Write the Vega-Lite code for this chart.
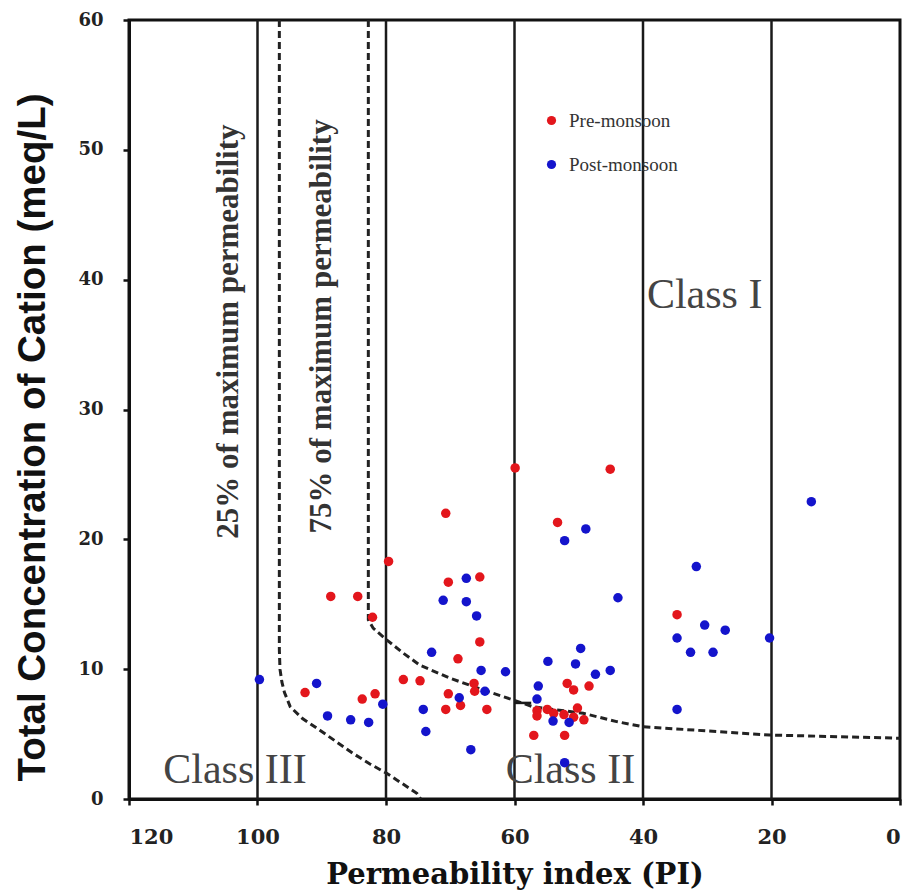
{
  "$schema": "https://vega.github.io/schema/vega-lite/v6.json",
  "width": 771,
  "height": 779,
  "autosize": {"type": "none"},
  "padding": {"left": 129, "top": 20, "right": 4, "bottom": 97},
  "background": "white",
  "config": {
    "view": {"stroke": "#111", "strokeWidth": 3},
    "axis": {"grid": false, "domainColor": "#111", "domainWidth": 3, "tickColor": "#111", "tickWidth": 2.5, "tickSize": 6, "labelColor": "#222", "titleColor": "#111"}
  },
  "datasets": {
    "vlines": [{"PI": 100}, {"PI": 80}, {"PI": 60}, {"PI": 40}, {"PI": 20}],
    "curves": [
      {"curve": "25%", "o": 1, "PI": 96.6, "C": 60},
      {"curve": "25%", "o": 2, "PI": 96.6, "C": 11.5},
      {"curve": "25%", "o": 3, "PI": 96.5, "C": 10.0},
      {"curve": "25%", "o": 4, "PI": 96.2, "C": 9.0},
      {"curve": "25%", "o": 5, "PI": 95.8, "C": 8.2},
      {"curve": "25%", "o": 6, "PI": 94.9, "C": 7.1},
      {"curve": "25%", "o": 7, "PI": 93.0, "C": 6.2},
      {"curve": "25%", "o": 8, "PI": 90.3, "C": 5.3},
      {"curve": "25%", "o": 9, "PI": 87.7, "C": 4.4},
      {"curve": "25%", "o": 10, "PI": 85.1, "C": 3.5},
      {"curve": "25%", "o": 11, "PI": 82.5, "C": 2.7},
      {"curve": "25%", "o": 12, "PI": 79.9, "C": 1.98},
      {"curve": "25%", "o": 13, "PI": 77.5, "C": 1.2},
      {"curve": "25%", "o": 14, "PI": 75.2, "C": 0.44},
      {"curve": "25%", "o": 15, "PI": 74.6, "C": 0},
      {"curve": "75%", "o": 1, "PI": 82.75, "C": 60},
      {"curve": "75%", "o": 2, "PI": 82.75, "C": 13.8},
      {"curve": "75%", "o": 3, "PI": 82.0, "C": 13.16},
      {"curve": "75%", "o": 4, "PI": 79.9, "C": 12.26},
      {"curve": "75%", "o": 5, "PI": 77.3, "C": 11.23},
      {"curve": "75%", "o": 6, "PI": 74.7, "C": 10.3},
      {"curve": "75%", "o": 7, "PI": 70.0, "C": 9.3},
      {"curve": "75%", "o": 8, "PI": 64.9, "C": 8.4},
      {"curve": "75%", "o": 9, "PI": 60.2, "C": 7.63},
      {"curve": "75%", "o": 10, "PI": 57.1, "C": 7.1},
      {"curve": "75%", "o": 11, "PI": 49.3, "C": 6.6},
      {"curve": "75%", "o": 12, "PI": 44.1, "C": 5.96},
      {"curve": "75%", "o": 13, "PI": 40.0, "C": 5.57},
      {"curve": "75%", "o": 14, "PI": 28.5, "C": 5.19},
      {"curve": "75%", "o": 15, "PI": 20.3, "C": 4.93},
      {"curve": "75%", "o": 16, "PI": 0, "C": 4.68}
    ],
    "segs": [{"PI": 60, "PI2": 57.4, "C": 7.4}],
    "classes": [
      {"label": "Class I", "PI": 30.4, "C": 37.8},
      {"label": "Class II", "PI": 51.3, "C": 1.25},
      {"label": "Class III", "PI": 103.5, "C": 1.25}
    ],
    "notes": [
      {"label": "25% of maximum permeability", "PI": 104.4, "C": 36.0},
      {"label": "75% of maximum permeability", "PI": 90.0, "C": 36.4}
    ],
    "points": [
      {"season": "Pre-monsoon", "PI": 79.6, "C": 18.3},
      {"season": "Pre-monsoon", "PI": 88.6, "C": 15.6},
      {"season": "Pre-monsoon", "PI": 84.4, "C": 15.6},
      {"season": "Pre-monsoon", "PI": 82.1, "C": 14.0},
      {"season": "Pre-monsoon", "PI": 92.6, "C": 8.2},
      {"season": "Pre-monsoon", "PI": 83.7, "C": 7.7},
      {"season": "Pre-monsoon", "PI": 81.7, "C": 8.1},
      {"season": "Pre-monsoon", "PI": 77.3, "C": 9.2},
      {"season": "Pre-monsoon", "PI": 74.7, "C": 9.1},
      {"season": "Pre-monsoon", "PI": 59.9, "C": 25.5},
      {"season": "Pre-monsoon", "PI": 45.1, "C": 25.4},
      {"season": "Pre-monsoon", "PI": 70.7, "C": 22.0},
      {"season": "Pre-monsoon", "PI": 53.3, "C": 21.3},
      {"season": "Pre-monsoon", "PI": 70.3, "C": 16.7},
      {"season": "Pre-monsoon", "PI": 65.4, "C": 17.1},
      {"season": "Pre-monsoon", "PI": 34.7, "C": 14.2},
      {"season": "Pre-monsoon", "PI": 65.4, "C": 12.1},
      {"season": "Pre-monsoon", "PI": 68.8, "C": 10.8},
      {"season": "Pre-monsoon", "PI": 66.3, "C": 8.9},
      {"season": "Pre-monsoon", "PI": 66.2, "C": 8.3},
      {"season": "Pre-monsoon", "PI": 70.3, "C": 8.1},
      {"season": "Pre-monsoon", "PI": 68.4, "C": 7.2},
      {"season": "Pre-monsoon", "PI": 70.7, "C": 6.9},
      {"season": "Pre-monsoon", "PI": 64.3, "C": 6.9},
      {"season": "Pre-monsoon", "PI": 51.8, "C": 8.9},
      {"season": "Pre-monsoon", "PI": 50.8, "C": 8.4},
      {"season": "Pre-monsoon", "PI": 48.4, "C": 8.7},
      {"season": "Pre-monsoon", "PI": 56.5, "C": 6.8},
      {"season": "Pre-monsoon", "PI": 56.5, "C": 6.4},
      {"season": "Pre-monsoon", "PI": 54.9, "C": 6.9},
      {"season": "Pre-monsoon", "PI": 53.9, "C": 6.6},
      {"season": "Pre-monsoon", "PI": 52.3, "C": 6.5},
      {"season": "Pre-monsoon", "PI": 50.2, "C": 7.0},
      {"season": "Pre-monsoon", "PI": 49.2, "C": 6.1},
      {"season": "Pre-monsoon", "PI": 50.8, "C": 6.3},
      {"season": "Pre-monsoon", "PI": 57.0, "C": 4.9},
      {"season": "Pre-monsoon", "PI": 52.2, "C": 4.9},
      {"season": "Post-monsoon", "PI": 99.7, "C": 9.2},
      {"season": "Post-monsoon", "PI": 90.8, "C": 8.9},
      {"season": "Post-monsoon", "PI": 80.5, "C": 7.3},
      {"season": "Post-monsoon", "PI": 89.1, "C": 6.4},
      {"season": "Post-monsoon", "PI": 85.5, "C": 6.1},
      {"season": "Post-monsoon", "PI": 82.7, "C": 5.9},
      {"season": "Post-monsoon", "PI": 48.9, "C": 20.8},
      {"season": "Post-monsoon", "PI": 52.2, "C": 19.9},
      {"season": "Post-monsoon", "PI": 31.7, "C": 17.9},
      {"season": "Post-monsoon", "PI": 67.5, "C": 17.0},
      {"season": "Post-monsoon", "PI": 71.1, "C": 15.3},
      {"season": "Post-monsoon", "PI": 67.5, "C": 15.2},
      {"season": "Post-monsoon", "PI": 65.9, "C": 14.1},
      {"season": "Post-monsoon", "PI": 43.9, "C": 15.5},
      {"season": "Post-monsoon", "PI": 34.7, "C": 12.4},
      {"season": "Post-monsoon", "PI": 32.6, "C": 11.3},
      {"season": "Post-monsoon", "PI": 72.9, "C": 11.3},
      {"season": "Post-monsoon", "PI": 65.2, "C": 9.9},
      {"season": "Post-monsoon", "PI": 61.4, "C": 9.8},
      {"season": "Post-monsoon", "PI": 64.6, "C": 8.3},
      {"season": "Post-monsoon", "PI": 68.6, "C": 7.8},
      {"season": "Post-monsoon", "PI": 74.2, "C": 6.9},
      {"season": "Post-monsoon", "PI": 73.8, "C": 5.2},
      {"season": "Post-monsoon", "PI": 66.8, "C": 3.8},
      {"season": "Post-monsoon", "PI": 54.8, "C": 10.6},
      {"season": "Post-monsoon", "PI": 49.7, "C": 11.6},
      {"season": "Post-monsoon", "PI": 50.5, "C": 10.4},
      {"season": "Post-monsoon", "PI": 47.4, "C": 9.6},
      {"season": "Post-monsoon", "PI": 45.1, "C": 9.9},
      {"season": "Post-monsoon", "PI": 56.3, "C": 8.7},
      {"season": "Post-monsoon", "PI": 56.5, "C": 7.7},
      {"season": "Post-monsoon", "PI": 54.0, "C": 6.0},
      {"season": "Post-monsoon", "PI": 51.5, "C": 5.9},
      {"season": "Post-monsoon", "PI": 52.2, "C": 2.8},
      {"season": "Post-monsoon", "PI": 34.7, "C": 6.9},
      {"season": "Post-monsoon", "PI": 13.8, "C": 22.9},
      {"season": "Post-monsoon", "PI": 30.4, "C": 13.4},
      {"season": "Post-monsoon", "PI": 27.2, "C": 13.0},
      {"season": "Post-monsoon", "PI": 29.1, "C": 11.3},
      {"season": "Post-monsoon", "PI": 20.3, "C": 12.4}
    ]
  },
  "encoding": {
    "x": {
      "field": "PI", "type": "quantitative",
      "scale": {"domain": [0, 120], "reverse": true, "nice": false, "zero": false},
      "axis": {
        "title": "Permeability index (PI)",
        "values": [0, 20, 40, 60, 80, 100, 120],
        "labelFont": "DejaVu Serif", "labelFontWeight": "bold", "labelFontSize": 21, "labelPadding": 21,
        "titleFont": "DejaVu Serif", "titleFontWeight": "bold", "titleFontSize": 29, "titlePadding": 13
      }
    },
    "y": {
      "field": "C", "type": "quantitative",
      "scale": {"domain": [0, 60], "nice": false},
      "axis": {
        "title": "Total Concentration of Cation (meq/L)",
        "values": [0, 10, 20, 30, 40, 50, 60],
        "labelFont": "DejaVu Serif", "labelFontWeight": "bold", "labelFontSize": 18, "labelPadding": 20,
        "titleFont": "Liberation Sans", "titleFontWeight": "bold", "titleFontSize": 38.5, "titlePadding": 25, "titleY": 417
      }
    }
  },
  "layer": [
    {
      "data": {"name": "vlines"},
      "mark": {"type": "rule", "color": "#1a1a1a", "strokeWidth": 2.5},
      "encoding": {"x": {"field": "PI", "type": "quantitative"}, "y": null}
    },
    {
      "data": {"name": "curves"},
      "mark": {"type": "line", "color": "#222", "strokeWidth": 3, "strokeDash": [7, 4]},
      "encoding": {
        "detail": {"field": "curve"},
        "order": {"field": "o", "type": "quantitative"}
      }
    },
    {
      "data": {"name": "segs"},
      "mark": {"type": "rule", "color": "#1a1a1a", "strokeWidth": 2.5},
      "encoding": {"x2": {"field": "PI2"}}
    },
    {
      "data": {"name": "classes"},
      "mark": {"type": "text", "font": "Liberation Serif", "fontSize": 42, "color": "#444", "align": "center", "baseline": "alphabetic"},
      "encoding": {"text": {"field": "label"}}
    },
    {
      "data": {"name": "notes"},
      "mark": {"type": "text", "font": "Liberation Serif", "fontWeight": "bold", "fontSize": 31, "color": "#333", "align": "center", "baseline": "middle", "angle": -90},
      "encoding": {"text": {"field": "label"}}
    },
    {
      "data": {"name": "points"},
      "mark": {"type": "circle", "size": 90, "opacity": 1},
      "encoding": {
        "color": {
          "field": "season", "type": "nominal",
          "scale": {"domain": ["Pre-monsoon", "Post-monsoon"], "range": ["#e3161c", "#1414cc"]},
          "legend": {
            "orient": "none", "legendX": 413, "legendY": 91, "title": null,
            "labelFont": "Liberation Serif", "labelFontSize": 19, "labelColor": "#333",
            "symbolSize": 85, "symbolType": "circle", "rowPadding": 24, "labelOffset": 8, "padding": 0
          }
        }
      }
    }
  ]
}
